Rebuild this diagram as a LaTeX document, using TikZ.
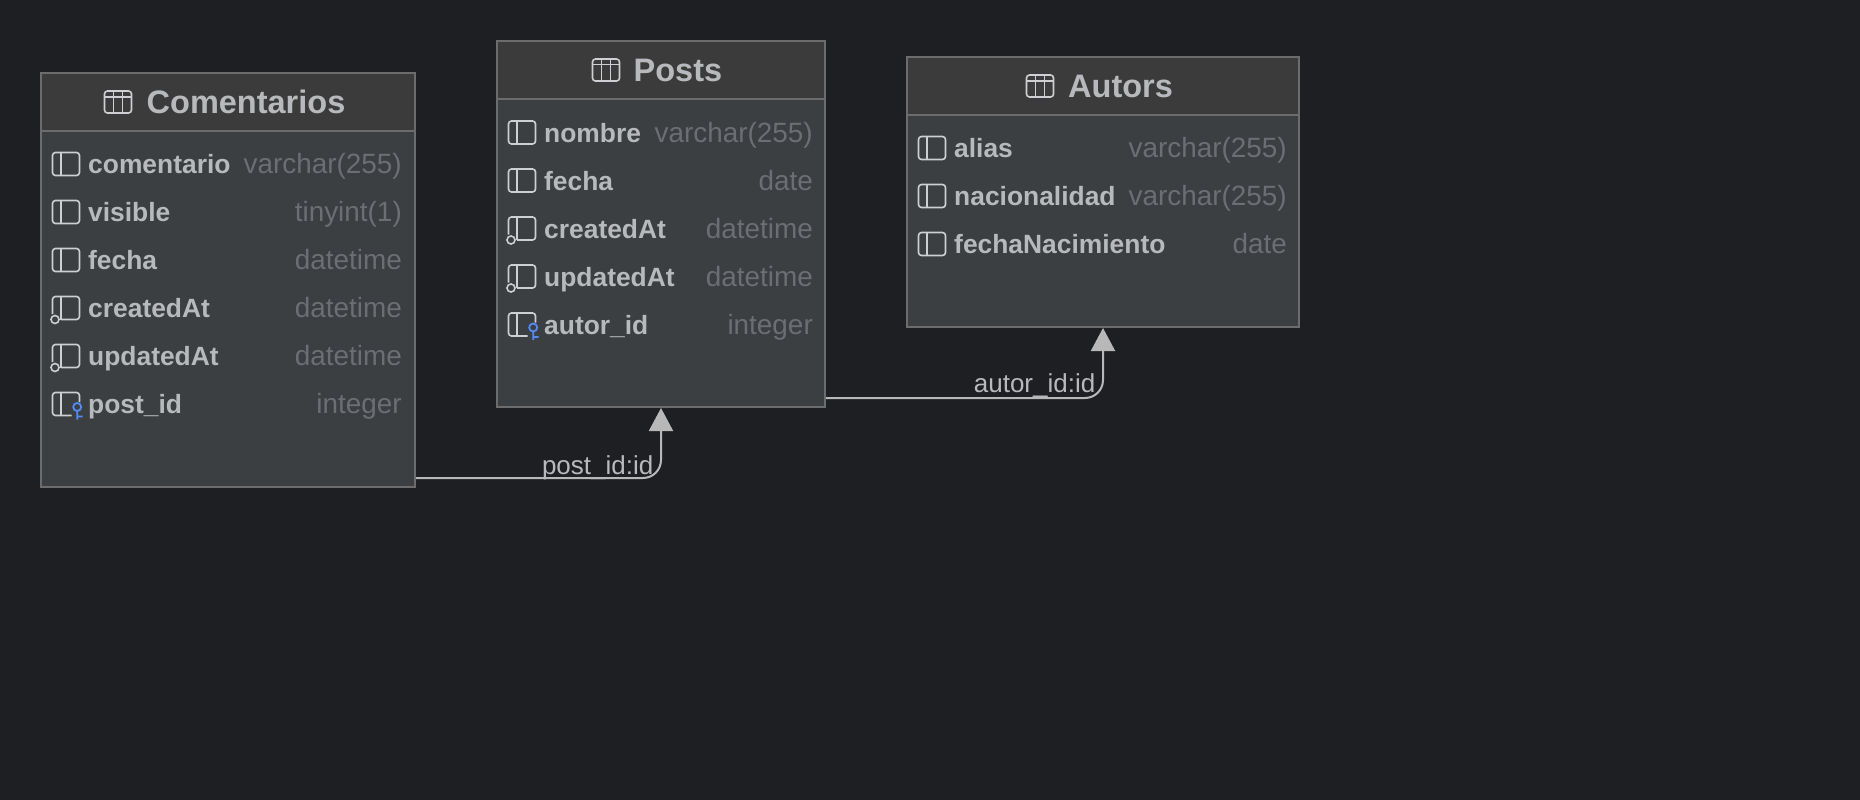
\documentclass[tikz,border=0pt]{standalone}
\usepackage{fontspec}
\setmainfont{Liberation Sans}
\usetikzlibrary{arrows.meta}
\definecolor{canvasbg}{HTML}{1E1F22}
\definecolor{headbg}{HTML}{3C3B3B}
\definecolor{bodybg}{HTML}{3B3F42}
\definecolor{edgegray}{HTML}{6C6C6C}
\definecolor{icongray}{HTML}{CDCFD2}
\definecolor{namegray}{HTML}{B8B9BC}
\definecolor{typegray}{HTML}{6B6E72}
\definecolor{linkgray}{HTML}{B8B8B8}
\definecolor{keyblue}{HTML}{548AF7}
\tikzset{
  tablebox/.style={draw=edgegray,line width=1.6pt,fill=bodybg,outer sep=0pt},
  tablehead/.style={fill=headbg,outer sep=0pt,minimum height=57.5pt,anchor=north},
  titletext/.style={anchor=base west,text=namegray,font=\bfseries\fontsize{32.5}{33}\selectfont,inner sep=0pt},
  nametext/.style={anchor=base west,text=namegray,font=\bfseries\fontsize{26.4}{27}\selectfont,inner sep=0pt},
  typetext/.style={anchor=base east,text=typegray,font=\fontsize{27.9}{28}\selectfont,inner sep=0pt},
  linktext/.style={anchor=base east,text=namegray,font=\fontsize{26}{26}\selectfont,inner sep=0pt},
  iconline/.style={draw=icongray,line width=1.6pt},
  fklink/.style={draw=linkgray,line width=2pt,rounded corners=18pt,shorten >=1pt,-{Triangle[length=23pt,width=24pt,fill=linkgray]}},
}
% icons, (#1,#2) is left edge and middle of the icon
\newcommand{\tableicon}[2]{%
  \begin{scope}[shift={(#1,#2)}]
    \draw[iconline,rounded corners=3pt] (0,-11) rectangle (27,11);
    \draw[iconline] (0,-5.3) -- (27,-5.3) (9,-11) -- (9,11) (18,-11) -- (18,11);
  \end{scope}}
\newcommand{\colicon}[2]{%
  \begin{scope}[shift={(#1,#2)}]
    \draw[iconline,rounded corners=3pt] (0,-11.5) rectangle (27,11.5);
    \draw[iconline] (8.5,-11.5) -- (8.5,11.5);
  \end{scope}}
\newcommand{\autoicon}[2]{%
  \begin{scope}[shift={(#1,#2)}]
    \draw[iconline,rounded corners=3pt] (0,6) -- (0,-11.5) -- (27,-11.5) -- (27,11.5) -- (8.5,11.5);
    \draw[iconline] (8.5,-11.5) -- (8.5,11.5);
    \draw[iconline] (2.5,11.5) circle (4pt);
  \end{scope}}
\newcommand{\keyicon}[2]{%
  \begin{scope}[shift={(#1,#2)}]
    \draw[iconline,rounded corners=3pt] (27,-2) -- (27,-11.5) -- (0,-11.5) -- (0,11.5) -- (19,11.5);
    \draw[iconline] (8.5,-11.5) -- (8.5,11.5);
    \draw[draw=keyblue,line width=1.8pt] (24.7,3) circle (4pt) (24.7,7) -- (24.7,15.5) (24.7,12.5) -- (30,12.5);
  \end{scope}}
\begin{document}
\begin{tikzpicture}[x=1pt,y=-1pt]
  \fill[canvasbg] (0,0) rectangle (1860,800);
  \useasboundingbox (0,0) rectangle (1860,800);

  % Comentarios
  \node[tablebox,minimum width=374pt,minimum height=414pt] (comentarios) at (228,280) {};
  \node[tablehead,minimum width=372.4pt,yshift=-0.8pt] (comentarioshead) at (comentarios.north) {};
  \draw[edgegray,line width=2pt] (comentarioshead.south west) -- (comentarioshead.south east);
  \tableicon{104.5}{102}
  \node[titletext] (comentariostitle) at (146.5,113.5) {Comentarios};
  \foreach \name/\type/\icon [count=\i from 0] in {comentario/varchar(255)/colicon,visible/tinyint(1)/colicon,fecha/datetime/colicon,createdAt/datetime/autoicon,updatedAt/datetime/autoicon,post\_id/integer/keyicon} {
    \csname\icon\endcsname{52.5}{164+48*\i}
    \node[nametext] (comentariosname\i) at (88,173.5+48*\i) {\name};
    \node[typetext] (comentariostype\i) at (402,173.5+48*\i) {\type};
  }

  % Posts
  \node[tablebox,minimum width=328pt,minimum height=366pt] (posts) at (661,224) {};
  \node[tablehead,minimum width=326.4pt,yshift=-0.8pt] (postshead) at (posts.north) {};
  \draw[edgegray,line width=2pt] (postshead.south west) -- (postshead.south east);
  \tableicon{592.5}{70}
  \node[titletext] (poststitle) at (633.5,81.5) {Posts};
  \foreach \name/\type/\icon [count=\i from 0] in {nombre/varchar(255)/colicon,fecha/date/colicon,createdAt/datetime/autoicon,updatedAt/datetime/autoicon,autor\_id/integer/keyicon} {
    \csname\icon\endcsname{508.5}{132.5+48*\i}
    \node[nametext] (postsname\i) at (544,142+48*\i) {\name};
    \node[typetext] (poststype\i) at (813,142+48*\i) {\type};
  }

  % Autors
  \node[tablebox,minimum width=392pt,minimum height=270pt] (autors) at (1103,192) {};
  \node[tablehead,minimum width=390.4pt,yshift=-0.8pt] (autorshead) at (autors.north) {};
  \draw[edgegray,line width=2pt] (autorshead.south west) -- (autorshead.south east);
  \tableicon{1026.5}{86}
  \node[titletext] (autorstitle) at (1068,97.5) {Autors};
  \foreach \name/\type/\icon [count=\i from 0] in {alias/varchar(255)/colicon,nacionalidad/varchar(255)/colicon,fechaNacimiento/date/colicon} {
    \csname\icon\endcsname{918.5}{148+48*\i}
    \node[nametext] (autorsname\i) at (954,157.5+48*\i) {\name};
    \node[typetext] (autorstype\i) at (1287,157.5+48*\i) {\type};
  }

  % foreign keys
  \coordinate (comentariosout) at (416,478);
  \coordinate (postsout) at (826,398);
  \draw[fklink] (comentariosout) -| (posts.south);
  \draw[fklink] (postsout) -| (autors.south);
  \node[linktext] (postslink) at (653.5,474) {post\_id:id};
  \node[linktext] (autorslink) at (1095.5,392) {autor\_id:id};
\end{tikzpicture}
\end{document}
